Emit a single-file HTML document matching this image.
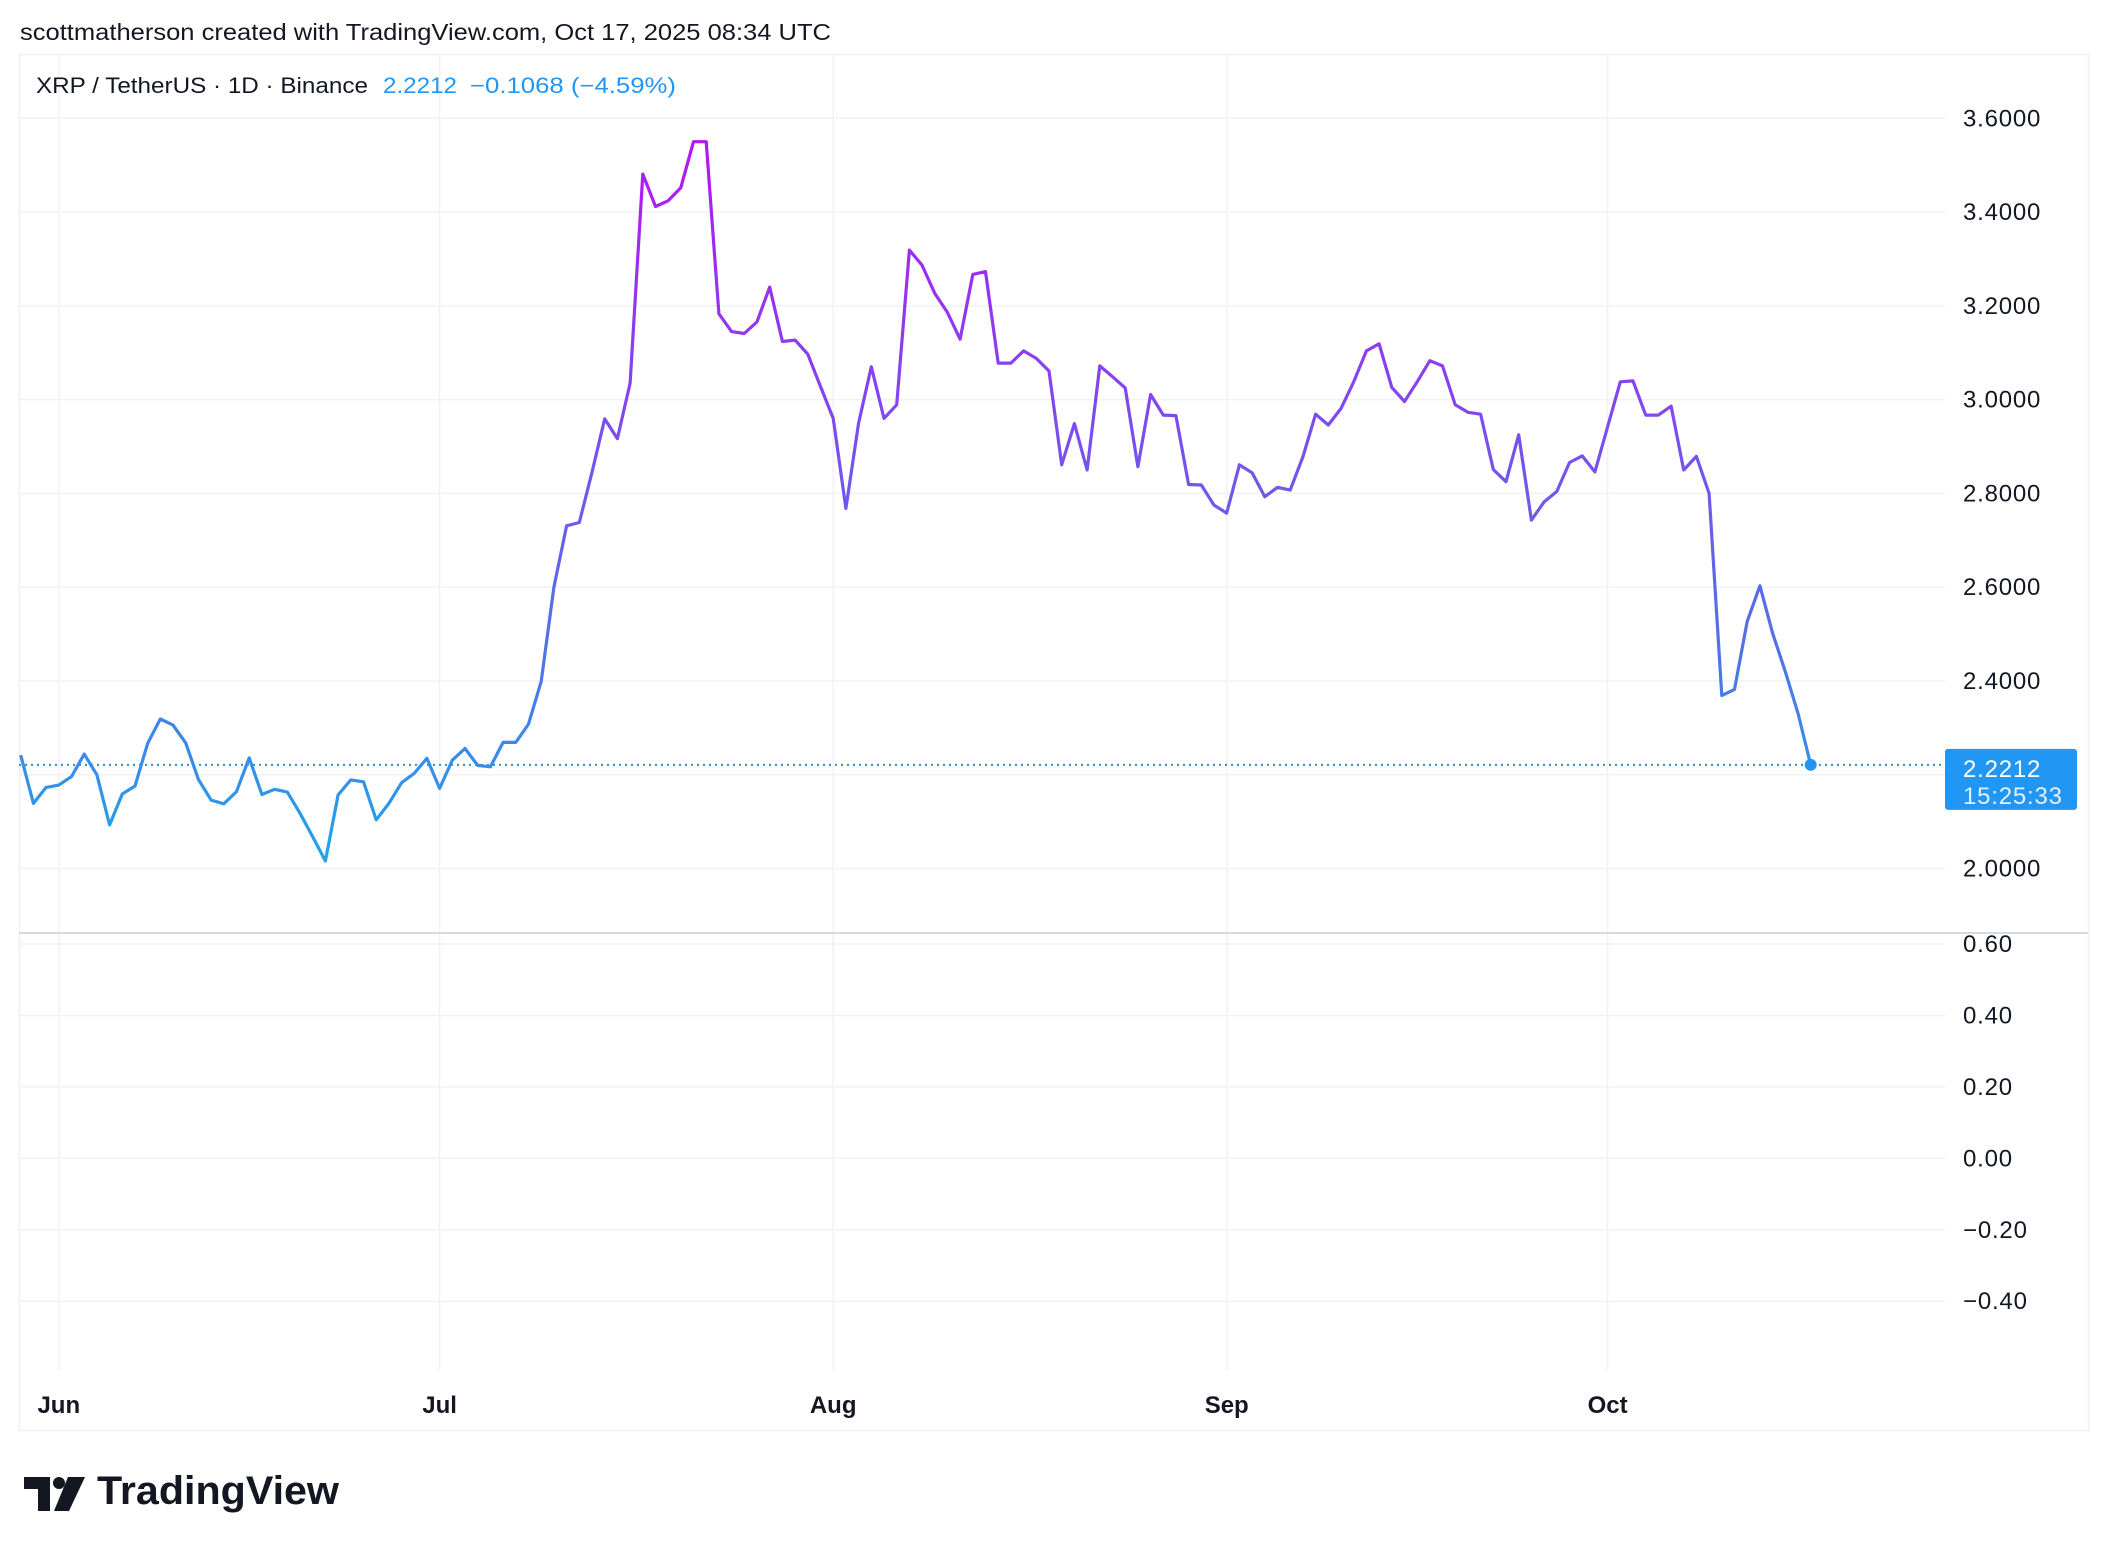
<!DOCTYPE html>
<html><head><meta charset="utf-8"><style>
html,body{margin:0;padding:0;background:#fff;}
svg{display:block;}
text{font-family:"Liberation Sans",sans-serif;}
</style></head><body>
<svg id="chart" width="2108" height="1552" viewBox="0 0 2108 1552">
<defs>
<linearGradient id="lineGrad" gradientUnits="userSpaceOnUse" x1="0" y1="140" x2="0" y2="870">
<stop offset="0" stop-color="#b515f2"/>
<stop offset="0.4" stop-color="#7c4ded"/>
<stop offset="0.7" stop-color="#5173e6"/>
<stop offset="1" stop-color="#1fa6ea"/>
</linearGradient>
</defs>
<text x="20" y="40" font-size="23" fill="#131722" textLength="811" lengthAdjust="spacingAndGlyphs">scottmatherson created with TradingView.com, Oct 17, 2025 08:34 UTC</text>
<rect x="19.5" y="54.5" width="2069" height="1376" fill="none" stroke="#eef0f4" stroke-width="1.5"/>
<g id="grid"></g>
<line x1="19" y1="933" x2="2088" y2="933" stroke="#d6d9e0" stroke-width="2"/>
<g id="yaxis"></g>
<g id="yaxis2"></g>
<g id="xaxis"></g>
<g id="series"></g>
<text x="36" y="93" font-size="22" fill="#131722" textLength="332" lengthAdjust="spacingAndGlyphs">XRP / TetherUS · 1D · Binance</text>
<text x="383" y="93" font-size="22" fill="#2196f3" textLength="74" lengthAdjust="spacingAndGlyphs">2.2212</text>
<text x="470" y="93" font-size="22" fill="#2196f3" textLength="206" lengthAdjust="spacingAndGlyphs">−0.1068 (−4.59%)</text>
<g>
<path d="M24 1477 h26 v34 h-12 v-22 h-14 z" fill="#131722"/>
<circle cx="59" cy="1483" r="6" fill="#131722"/>
<path d="M68 1477 h17 l-16 34 h-15 z" fill="#131722"/>
<text x="97" y="1504" font-size="40" font-weight="bold" fill="#131722" textLength="242" lengthAdjust="spacingAndGlyphs">TradingView</text>
</g>
</svg>
<script>
const prices = [2.242,2.139,2.173,2.178,2.196,2.244,2.200,2.093,2.159,2.176,2.267,2.319,2.306,2.268,2.190,2.146,2.138,2.164,2.236,2.158,2.169,2.163,2.118,2.068,2.016,2.157,2.189,2.185,2.104,2.139,2.183,2.203,2.235,2.171,2.231,2.256,2.220,2.217,2.269,2.269,2.308,2.399,
2.600,2.731,2.738,2.845,2.959,2.917,3.035,3.481,3.412,3.424,3.452,3.550,3.550,3.183,3.145,3.141,3.166,3.240,3.124,3.127,3.097,3.028,2.960,2.768,2.950,3.070,2.960,2.989,3.319,3.287,3.227,3.186,3.129,3.267,3.273,3.078,3.078,3.104,3.088,
3.061,2.861,2.949,2.850,3.072,3.049,3.025,2.857,3.011,2.967,2.966,2.819,2.818,2.775,2.758,2.861,2.844,2.793,2.813,2.807,2.878,2.969,2.946,2.981,3.038,3.104,3.119,3.026,2.996,3.038,3.083,3.072,2.989,2.973,2.969,2.851,2.825,2.925,2.743,2.782,2.804,
2.866,2.880,2.846,2.942,3.038,3.040,2.967,2.967,2.986,2.850,2.879,2.800,2.369,2.382,2.527,2.603,2.502,2.420,2.331,2.2212];
const priceTicks = [3.6,3.4,3.2,3.0,2.8,2.6,2.4,2.2,2.0];
const priceTickLabels = ["3.6000","3.4000","3.2000","3.0000","2.8000","2.6000","2.4000","","2.0000"];
const lowerTicks = [0.6,0.4,0.2,0.0,-0.2,-0.4];
const lowerTickLabels = ["0.60","0.40","0.20","0.00","−0.20","−0.40"];
const monthLabels = ["Jun","Jul","Aug","Sep","Oct"];
const monthDayIndex = [3,33,64,95,125];
const lastPrice = 2.2212;
const countdown = "15:25:33";

const NS="http://www.w3.org/2000/svg";
const X0=20.7, DX=12.695, PLOT_R=1945;
const xOf = i => X0 + i*DX;
const yOf = p => 118.3 + (3.6-p)*468.9;
const y2Of = v => 944 + (0.6-v)*357.2;
function mk(tag, attrs, parent){const e=document.createElementNS(NS,tag);for(const k in attrs)e.setAttribute(k,attrs[k]);parent.appendChild(e);return e;}
const grid=document.getElementById('grid'), ya=document.getElementById('yaxis'), ya2=document.getElementById('yaxis2'), xa=document.getElementById('xaxis'), ser=document.getElementById('series');

priceTicks.forEach((p,i)=>{
  const y=yOf(p);
  const l=mk('line',{x1:19,x2:PLOT_R,y1:y,y2:y,stroke:'#f0f2f5','stroke-width':1.5},grid);
  
  
  if(priceTickLabels[i]){
    const t=mk('text',{x:1963,y:y+8,'font-size':24,'letter-spacing':0.8,fill:'#131722'},ya);
    t.textContent=priceTickLabels[i];
    
    
  }
});
lowerTicks.forEach((v,i)=>{
  const y=y2Of(v);
  const l=mk('line',{x1:19,x2:PLOT_R,y1:y,y2:y,stroke:'#f0f2f5','stroke-width':1.5},grid);
  
  
  const t=mk('text',{x:1963,y:y+8,'font-size':24,'letter-spacing':0.8,fill:'#131722'},ya2);
  t.textContent=lowerTickLabels[i];
  
  
});
monthLabels.forEach((m,i)=>{
  const x=xOf(monthDayIndex[i]);
  const l=mk('line',{x1:x,x2:x,y1:55,y2:1370,stroke:'#f0f2f5','stroke-width':1.5},grid);
  
  
  const t=mk('text',{x:x,y:1413,'font-size':24,'font-weight':'bold',fill:'#131722','text-anchor':'middle'},xa);
  t.textContent=m;
  
  
});
const ly=yOf(lastPrice);
const dl=mk('line',{x1:19,x2:PLOT_R,y1:ly,y2:ly,stroke:'#2a8fc9','stroke-width':2,'stroke-dasharray':'2 4'},ser);


const d=prices.map((p,i)=>(i?'L':'M')+xOf(i).toFixed(1)+' '+yOf(p).toFixed(1)).join(' ');
const path=mk('path',{d:d,fill:'none',stroke:'url(#lineGrad)','stroke-width':3.2,'stroke-linejoin':'round'},ser);


const last=prices.length-1;
const dot=mk('circle',{cx:xOf(last),cy:yOf(prices[last]),r:6,fill:'#2196f3'},ser);


const box=mk('rect',{x:1945,y:ly-16,width:132,height:61,rx:3,fill:'#2196f3'},ser);


const t1=mk('text',{x:1963,y:ly+12,'font-size':24,'letter-spacing':0.8,fill:'#fff'},ser);
t1.textContent=lastPrice.toFixed(4);


const t2=mk('text',{x:1963,y:ly+39,'font-size':24,'letter-spacing':0.8,fill:'#e3f0fd'},ser);
t2.textContent=countdown;


</script>
</body></html>
